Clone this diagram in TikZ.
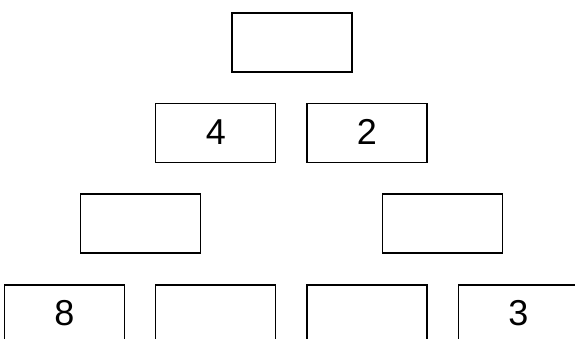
\documentclass[tikz,border=0pt]{standalone}
\usepackage{fontspec}
\setmainfont{Liberation Sans}
\begin{document}
\begin{tikzpicture}[x=1pt,y=-1pt,
  cell/.style={draw=black,line width=1.3pt,rectangle,minimum width=120pt,minimum height=59pt,inner sep=0pt,font=\fontsize{36}{40}\selectfont},
  topcell/.style={cell,line width=1.8pt}]
\useasboundingbox (0,0) rectangle (575,338);
\clip (0,0) rectangle (575,338);
\node[topcell] (r1) at (292,42.5) {};
\node[cell] (r2a) at (215.8,132.8) {\raisebox{2pt}{4}};
\node[cell] (r2b) at (366.9,132.8) {\raisebox{2pt}{2}};
\node[cell] (r3a) at (140.2,223.5) {};
\node[cell] (r3b) at (442.6,223.5) {};
\node[cell] (r4a) at (64.5,314.5) {\raisebox{4pt}{8}};
\node[cell] (r4b) at (215.8,314.5) {};
\node[cell] (r4c) at (366.9,314.5) {};
\node[cell] (r4d) at (518.4,314.5) {\raisebox{4pt}{3}};
\end{tikzpicture}
\end{document}
